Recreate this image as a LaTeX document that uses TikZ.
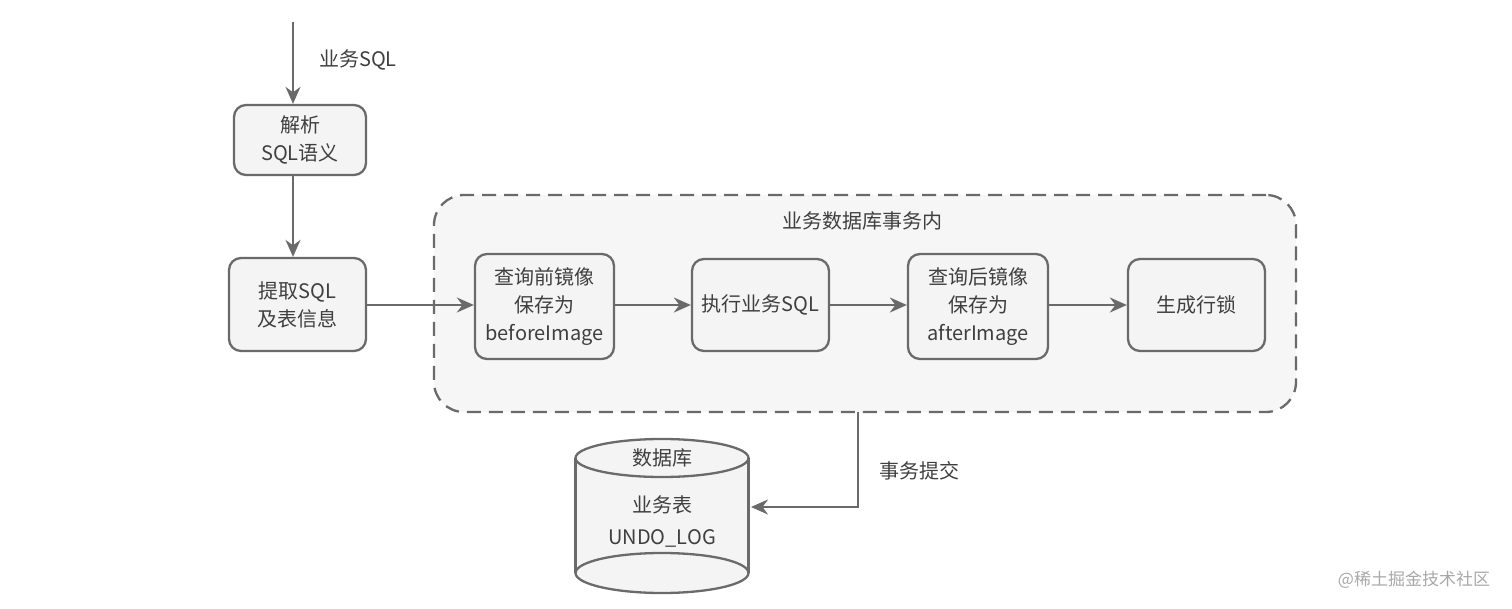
\documentclass[tikz,border=0pt]{standalone}
\usepackage{fontspec}
\setmainfont{Noto Sans CJK SC}
\usetikzlibrary{arrows.meta,positioning,calc}
\definecolor{linegray}{HTML}{6A6A6A}
\definecolor{txtgray}{HTML}{3F3F3F}
\definecolor{boxfill}{HTML}{F4F4F4}
\definecolor{areafill}{HTML}{F6F6F6}
\definecolor{wmgray}{HTML}{A8A8A8}
\tikzset{
  procbox/.style={draw=linegray, line width=2.3pt, fill=boxfill, rounded corners=12pt,
    inner sep=0pt, align=center, text=txtgray, font=\fontsize{20}{28}\selectfont},
  flow/.style={draw=linegray, line width=2.3pt, -{Stealth[length=17pt,width=15pt]}},
  lbl/.style={text=txtgray, font=\fontsize{20}{28}\selectfont, inner sep=0pt},
}
\begin{document}
\begin{tikzpicture}[x=1pt,y=-1pt]
\useasboundingbox (0,0) rectangle (1512,609);
% transaction area
\node[draw=linegray, line width=2.3pt, dash pattern=on 14pt off 8pt, fill=areafill,
  rounded corners=30pt, minimum width=862pt, minimum height=217pt, inner sep=0pt]
  (trx) at (865,303.5) {};
\node[lbl] (trxlbl) at (862,221) {业务数据库事务内};
% start
\coordinate (start) at (293,22);
\node[lbl, anchor=west] (sqllbl) at (319,60) {业务SQL};
% boxes
\node[procbox, minimum width=132pt, minimum height=70pt] (parse) at (300,140) {解析\\SQL语义};
\node[procbox, minimum width=137pt, minimum height=93pt] (extract) at (297.5,304.5) {提取SQL\\及表信息};
\node[procbox, minimum width=139pt, minimum height=105pt] (before) at (544.5,306.5) {查询前镜像\\保存为\\beforeImage};
\node[procbox, minimum width=137pt, minimum height=92pt] (exec) at (760.5,305) {执行业务SQL};
\node[procbox, minimum width=140pt, minimum height=105pt] (after) at (978,306.5) {查询后镜像\\保存为\\afterImage};
\node[procbox, minimum width=137pt, minimum height=92pt] (lock) at (1196.5,305) {生成行锁};
% arrows
\draw[flow] (start) -- (start |- parse.north);
\draw[flow] (parse.south -| start) -- (start |- extract.north);
\draw[flow] (extract.east |- 0,305) -- (before.west |- 0,305);
\draw[flow] (before.east |- 0,305) -- (exec.west |- 0,305);
\draw[flow] (exec.east |- 0,305) -- (after.west |- 0,305);
\draw[flow] (after.east |- 0,305) -- (lock.west |- 0,305);
% database cylinder
\node[minimum width=173pt, minimum height=156pt, inner sep=0pt] (db) at (662,515.5) {};
\fill[boxfill] (575.5,458) -- (575.5,573) arc[start angle=180,end angle=360,x radius=86.5pt,y radius=20pt]
  -- (748.5,458) arc[start angle=0,end angle=180,x radius=86.5pt,y radius=19pt] -- cycle;
\draw[linegray, line width=2.3pt] (662,458) ellipse[x radius=86.5pt, y radius=19pt];
\draw[linegray, line width=2.3pt] (662,573) ellipse[x radius=86.5pt, y radius=20pt];
\draw[linegray, line width=2.3pt] (575.5,458) -- (575.5,573);
\draw[linegray, line width=2.3pt] (748.5,458) -- (748.5,573);
\node[lbl] (dbname) at (662,458) {数据库};
\node[lbl] (dbtbl) at (662,505) {业务表};
\node[lbl] (dbundo) at (662,538) {UNDO\_LOG};
% commit
\coordinate (commit) at (858,412);
\coordinate (dbin) at (751,507);
\draw[flow] (commit) |- (dbin);
\node[lbl, anchor=west] (commitlbl) at (879,471) {事务提交};
% watermark
\node[text=wmgray, font=\fontsize{17}{20}\selectfont, inner sep=0pt] (wm) at (1414,580) {@稀土掘金技术社区};
\end{tikzpicture}
\end{document}
